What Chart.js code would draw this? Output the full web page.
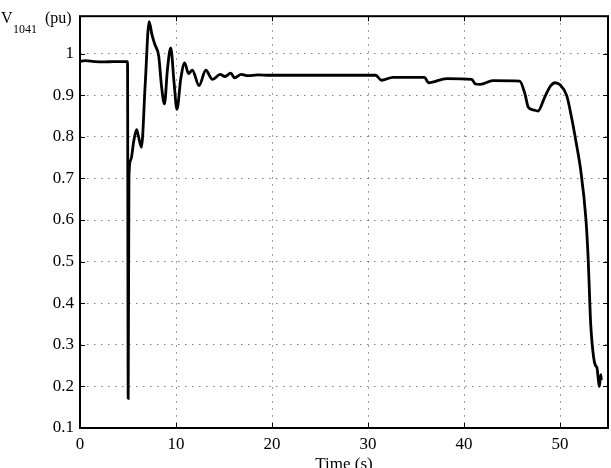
<!DOCTYPE html>
<html>
<head>
<meta charset="utf-8">
<script src="https://cdn.jsdelivr.net/npm/chart.js@4/dist/chart.umd.min.js"></script>
<style>
  html, body { margin: 0; padding: 0; background: #fff; }
  #wrap { width: 611px; height: 468px; }
</style>
</head>
<body>
<div id="wrap"><canvas id="voltChart" width="611" height="468"></canvas></div>
<script>
// time (s) and bus 1041 voltage (pu)
const timeS = [
  0, 0.5, 1.5, 2.5, 3.5, 4.95, 5.02, 5.1, 5.3, 5.6, 5.9,
  6.1, 6.4, 6.8, 7.2, 7.5, 7.8, 8.2, 8.5, 8.8, 9.1,
  9.45, 9.8, 10.1, 10.5, 10.9, 11.3, 11.7, 12.4, 13.1, 13.8,
  14.6, 15.1, 15.7, 16.1, 16.8, 17.5, 18.5, 19.8, 25, 30.8,
  31.4, 32.6, 35.9, 36.3, 38.2, 40.8, 41.2, 41.7, 43.0, 45.8,
  46.35, 46.7, 47.2, 47.7, 48.4, 49.0, 49.5, 50.0, 50.7, 51.2,
  51.7, 52.15, 52.7, 52.95, 53.1, 53.2, 53.5, 53.7, 53.85, 54.0,
  54.1, 54.25, 54.3
];
const voltagePu = [
  0.981, 0.983, 0.981, 0.980, 0.981, 0.981, 0.171, 0.706, 0.745, 0.790, 0.817,
  0.800, 0.775, 0.930, 1.077, 1.045, 1.022, 0.994, 0.920, 0.879, 0.960,
  1.014, 0.930, 0.866, 0.940, 0.978, 0.952, 0.960, 0.923, 0.960, 0.938,
  0.950, 0.945, 0.953, 0.942, 0.950, 0.947, 0.949, 0.948, 0.948, 0.948,
  0.936, 0.943, 0.943, 0.930, 0.940, 0.938, 0.927, 0.926, 0.935, 0.934,
  0.903, 0.871, 0.865, 0.862, 0.895, 0.922, 0.930, 0.925, 0.899, 0.847,
  0.784, 0.721, 0.602, 0.499, 0.404, 0.349, 0.270, 0.250, 0.245, 0.215,
  0.200, 0.228, 0.215
];
const xTicks = [0, 10, 20, 30, 40, 50];
const yTicks = [0.1, 0.2, 0.3, 0.4, 0.5, 0.6, 0.7, 0.8, 0.9, 1];

const serif = "'Liberation Serif', 'Times New Roman', serif";
Chart.defaults.font.family = serif;
Chart.defaults.font.size = 17;
Chart.defaults.color = '#000';

// MATLAB style frame, inward ticks and axis labels
const matlabFrame = {
  id: 'matlabFrame',
  afterDraw(chart) {
    const { ctx, chartArea: a, scales } = chart;
    ctx.save();
    ctx.strokeStyle = '#000';
    ctx.lineWidth = 1;
    ctx.beginPath();
    scales.x.ticks.forEach(t => {
      const px = Math.round(scales.x.getPixelForValue(t.value)) + 0.5;
      ctx.moveTo(px, a.bottom); ctx.lineTo(px, a.bottom - 5);
      ctx.moveTo(px, a.top); ctx.lineTo(px, a.top + 5);
    });
    scales.y.ticks.forEach(t => {
      const py = Math.round(scales.y.getPixelForValue(t.value)) + 0.5;
      ctx.moveTo(a.left, py); ctx.lineTo(a.left + 5, py);
      ctx.moveTo(a.right, py); ctx.lineTo(a.right - 5, py);
    });
    ctx.stroke();
    ctx.lineWidth = 2;
    ctx.strokeRect(a.left, a.top, a.right - a.left, a.bottom - a.top);

    ctx.fillStyle = '#000';
    ctx.textBaseline = 'alphabetic';
    ctx.textAlign = 'left';
    ctx.font = '16px ' + serif;
    ctx.fillText('V', 1, 23);
    ctx.font = '12px ' + serif;
    ctx.fillText('1041', 13, 33);
    ctx.font = '16px ' + serif;
    ctx.fillText('(pu)', 45, 23);

    ctx.font = '17px ' + serif;
    ctx.textAlign = 'center';
    ctx.fillText('Time (s)', (a.left + a.right) / 2, 469);
    ctx.restore();
  }
};

new Chart(document.getElementById('voltChart'), {
  type: 'line',
  data: {
    datasets: [{
      data: timeS.map((t, i) => ({ x: t, y: voltagePu[i] })),
      borderColor: '#000',
      borderWidth: 2.8,
      pointRadius: 0,
      fill: false,
      cubicInterpolationMode: 'monotone'
    }]
  },
  options: {
    responsive: false,
    animation: false,
    layout: { padding: { top: 11, right: 3, left: 0, bottom: 0 } },
    plugins: { legend: { display: false }, tooltip: { enabled: false } },
    scales: {
      x: {
        type: 'linear',
        min: 0,
        max: 55,
        afterBuildTicks: s => { s.ticks = xTicks.map(v => ({ value: v })); },
        afterFit: s => { s.height = 40; },
        grid: { color: 'rgba(0,0,0,0.5)', lineWidth: 1, drawTicks: false },
        border: { display: false, dash: [1.5, 5.5] },
        ticks: {
          color: '#000',
          padding: 6,
          maxRotation: 0,
          font: { family: serif, size: 17 },
          callback: v => String(v)
        }
      },
      y: {
        min: 0.1,
        max: 1.09,
        afterBuildTicks: s => { s.ticks = yTicks.map(v => ({ value: v })); },
        afterFit: s => { s.width = 80; },
        grid: { color: 'rgba(0,0,0,0.5)', lineWidth: 1, drawTicks: false },
        border: { display: false, dash: [1.5, 5.5] },
        ticks: {
          color: '#000',
          padding: 6,
          font: { family: serif, size: 17 },
          callback: v => String(+v.toFixed(2))
        }
      }
    }
  },
  plugins: [matlabFrame]
});
</script>
</body>
</html>
